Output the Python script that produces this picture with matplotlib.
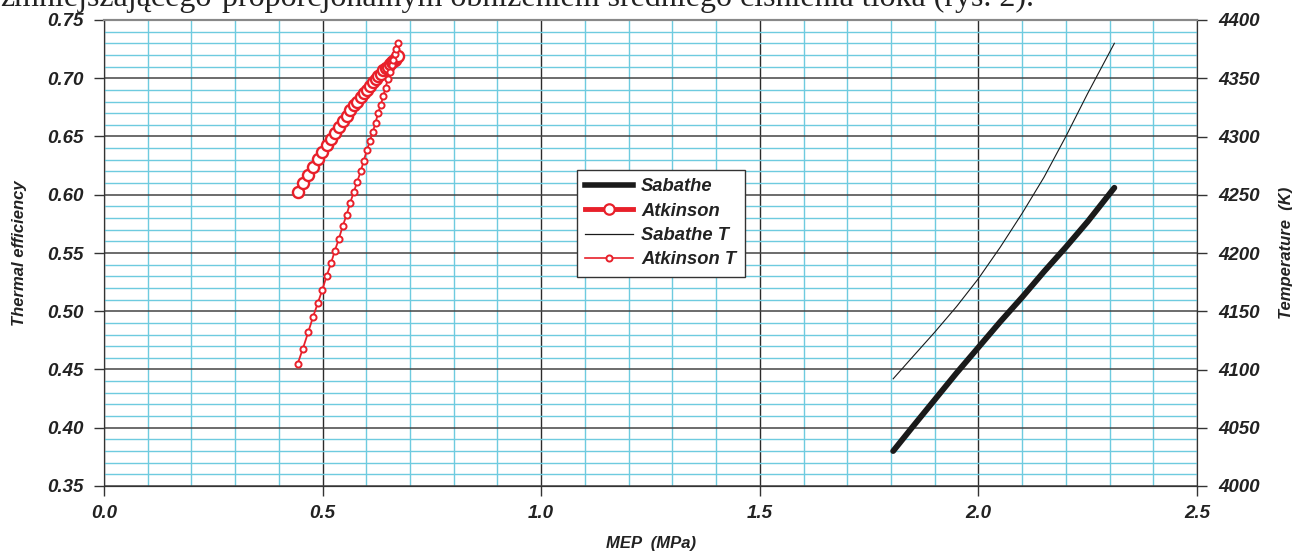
import matplotlib
matplotlib.use("Agg")
import matplotlib.pyplot as plt
from matplotlib.ticker import MultipleLocator, FormatStrFormatter
from matplotlib.lines import Line2D

# ---------------- data ----------------
atk_mep = [0.443, 0.455, 0.467, 0.478, 0.489, 0.499, 0.509, 0.519, 0.528, 0.537,
           0.546, 0.555, 0.563, 0.571, 0.579, 0.587, 0.594, 0.601, 0.608, 0.615,
           0.621, 0.627, 0.633, 0.639, 0.644, 0.649, 0.654, 0.658, 0.662, 0.666,
           0.669, 0.673]
atk_eff = [0.602, 0.610, 0.617, 0.624, 0.631, 0.637, 0.643, 0.648, 0.653, 0.658,
           0.663, 0.668, 0.673, 0.677, 0.680, 0.684, 0.687, 0.690, 0.693, 0.697,
           0.699, 0.702, 0.704, 0.707, 0.709, 0.710, 0.712, 0.714, 0.715, 0.716,
           0.717, 0.719]
atk_T = [4105, 4118, 4132, 4145, 4157, 4168, 4180, 4191, 4202, 4212,
         4223, 4233, 4243, 4252, 4261, 4270, 4279, 4288, 4296, 4304,
         4312, 4320, 4327, 4335, 4342, 4349, 4355, 4361, 4366, 4371,
         4375, 4380]

sab_mep = [1.805, 1.85, 1.90, 1.95, 2.00, 2.05, 2.10, 2.15, 2.20, 2.25, 2.311]
sab_eff = [0.380, 0.401, 0.424, 0.447, 0.469, 0.491, 0.512, 0.534, 0.555, 0.577, 0.606]
sab_T = [4092, 4111, 4132, 4154, 4178, 4205, 4234, 4265, 4300, 4337, 4380]

labels = ["Sabathe", "Atkinson", "Sabathe T", "Atkinson T"]
x_label = "MEP  (MPa)"
y_label = "Thermal efficiency"
y2_label = "Temperature  (K)"
top_prefix = "zmniejszającego"
top_text = "proporcjonalnym obniżeniem średniego ciśnienia tłoka (rys. 2)."

# ---------------- style ----------------
plt.rcParams['font.family'] = ['Liberation Sans', 'DejaVu Sans']
CYAN = '#6ecbdf'
DARK = '#2b2b2b'
RED = '#e8202a'
TXT = '#222222'

W, H = 1292, 552
fig = plt.figure(figsize=(W/100, H/100), dpi=100)
ax = fig.add_axes([104/W, 1-486/H, (1197-104)/W, (486-20)/H])
ax2 = ax.twinx()

ax.set_xlim(0, 2.5)
ax.set_ylim(0.35, 0.75)
ax2.set_ylim(4000, 4400)

ax.xaxis.set_major_locator(MultipleLocator(0.5))
ax.xaxis.set_minor_locator(MultipleLocator(0.1))
ax.yaxis.set_major_locator(MultipleLocator(0.05))
ax.yaxis.set_minor_locator(MultipleLocator(0.01))
ax2.yaxis.set_major_locator(MultipleLocator(50))
ax.xaxis.set_major_formatter(FormatStrFormatter('%.1f'))
ax.yaxis.set_major_formatter(FormatStrFormatter('%.2f'))

ax.grid(which='minor', color=CYAN, lw=1.0)
ax.grid(which='major', axis='x', color=DARK, lw=1.0)
ax.grid(which='major', axis='y', color='#444444', lw=1.1)
ax.set_axisbelow(True)

ax.tick_params(which='minor', length=0)
ax.tick_params(which='major', length=7, width=1, color='#333333', direction='out')
ax.tick_params(axis='x', pad=7)
ax.tick_params(axis='y', pad=8)
ax2.tick_params(which='major', length=7, width=1, color='#333333', direction='out', pad=8)
for lab in ax.get_xticklabels() + ax.get_yticklabels() + ax2.get_yticklabels():
    lab.set_fontsize(13.5); lab.set_fontweight('bold'); lab.set_fontstyle('italic'); lab.set_color(TXT)

for sp in ['left', 'bottom', 'right']:
    ax.spines[sp].set_color('#333333')
    ax2.spines[sp].set_color('#333333')
for a in (ax, ax2):
    a.spines['top'].set_color('#888888')
    a.spines['top'].set_linewidth(1.5)

lab_kw = dict(fontsize=12, fontweight='bold', fontstyle='italic', color=TXT)
ax.set_xlabel(x_label, labelpad=10, **lab_kw)
ax.set_ylabel(y_label, labelpad=14, **lab_kw)
ax2.set_ylabel(y2_label, labelpad=14, **lab_kw)

# ---------------- series ----------------
ax.plot(sab_mep, sab_eff, color='#1a1a1a', lw=4.2, solid_capstyle='round', zorder=3)
ax.plot(atk_mep, atk_eff, color=RED, lw=2, marker='o', ms=8, mfc='white', mec=RED, mew=1.7, zorder=4)
ax2.plot(sab_mep, sab_T, color='#1a1a1a', lw=0.8, zorder=3)
ax2.plot(atk_mep, atk_T, color=RED, lw=1.3, marker='o', ms=4.4, mfc='white', mec=RED, mew=1.4, zorder=4)

handles = [
    Line2D([], [], color='#1a1a1a', lw=4),
    Line2D([], [], color=RED, lw=3.5, marker='o', ms=7.5, mfc='white', mec=RED, mew=1.6),
    Line2D([], [], color='#1a1a1a', lw=0.9),
    Line2D([], [], color=RED, lw=1.2, marker='o', ms=4.4, mfc='white', mec=RED, mew=1.4),
]
leg = ax2.legend(handles, labels, loc='upper left',
                 bbox_to_anchor=((577-104)/(1197-104), (486-170)/(486-20)),
                 prop=dict(family='Liberation Sans', weight='bold', style='italic', size=13.2),
                 frameon=True, fancybox=False, edgecolor='#333333', framealpha=1,
                 handlelength=2.6, handletextpad=0.45, labelspacing=0.4, borderpad=0.45,
                 borderaxespad=0)
leg.get_frame().set_linewidth(1.0)
for t in leg.get_texts():
    t.set_color(TXT)

fig.text(212/W, 1 - 6/H, top_prefix, fontsize=23, family='Liberation Serif',
         va='baseline', ha='right', color=TXT)
fig.text(222/W, 1 - 6/H, top_text, fontsize=23, family='Liberation Serif',
         va='baseline', ha='left', color=TXT)

fig.savefig('out.png', dpi=100)
